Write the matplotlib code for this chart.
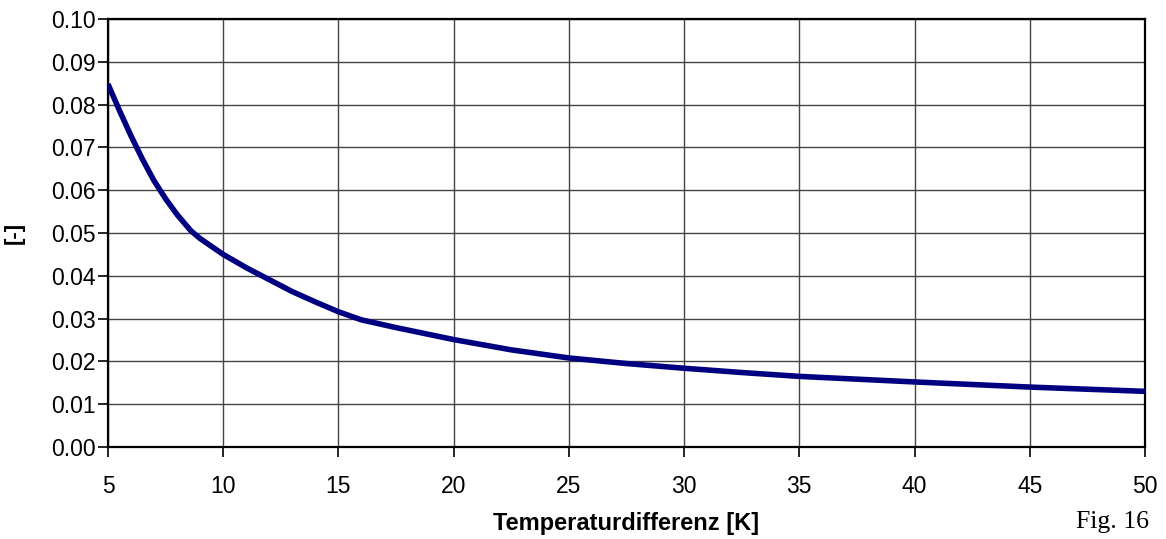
import matplotlib
matplotlib.use('Agg')
import matplotlib.pyplot as plt

plt.rcParams['font.family'] = ['Liberation Sans', 'DejaVu Sans']

# Temperaturdifferenz [K] und Kennwert [-]
dt = [5, 5.5, 6, 6.5, 7, 7.5, 8, 8.6, 9, 10, 11, 12, 13, 14, 15, 16, 17.5,
      20, 22.5, 25, 27.5, 30, 32.5, 35, 40, 45, 50]
wert = [0.0848, 0.0786, 0.0727, 0.0672, 0.0622, 0.0580, 0.0543, 0.0505,
        0.0487, 0.0450, 0.0419, 0.0391, 0.0363, 0.0339, 0.0316, 0.0297,
        0.0279, 0.0251, 0.0227, 0.0208, 0.0195, 0.0184, 0.0174, 0.0165,
        0.0152, 0.0140, 0.0130]

x_ticks = list(range(5, 51, 5))
y_ticks = [i / 100 for i in range(0, 11)]

fig = plt.figure(figsize=(11.66, 5.39), dpi=100)
ax = fig.add_axes([0.0926, 0.1707, 0.8894, 0.794])

ax.plot(dt, wert, color='#000080', lw=4, solid_capstyle='butt',
        solid_joinstyle='round', zorder=3)

ax.set_xlim(5, 50)
ax.set_ylim(0, 0.10)
ax.set_xticks(x_ticks)
ax.set_yticks(y_ticks)
ax.set_yticklabels([f'{v:.2f}' for v in y_ticks])
ax.grid(True, color='#444444', lw=1.0)
ax.set_axisbelow(True)

for s in ax.spines.values():
    s.set_linewidth(1.6)
    s.set_color('black')

ax.tick_params(axis='both', direction='out', length=7, width=1.2,
               labelsize=16.5, colors='black')
ax.tick_params(axis='x', pad=13)
ax.tick_params(axis='y', pad=2)

ax.set_xlabel('Temperaturdifferenz [K]', fontsize=17, fontweight='bold')
ax.xaxis.set_label_coords(0.5, -0.152)
ax.set_ylabel('[-]', fontsize=16, fontweight='bold')
ax.yaxis.set_label_coords(-0.08, 0.5)

fig.text(0.985, 0.0315, 'Fig. 16', ha='right', va='center', fontsize=18.5,
         family=['Liberation Serif', 'DejaVu Serif'])

fig.savefig('out.png', dpi=100, facecolor='white')
